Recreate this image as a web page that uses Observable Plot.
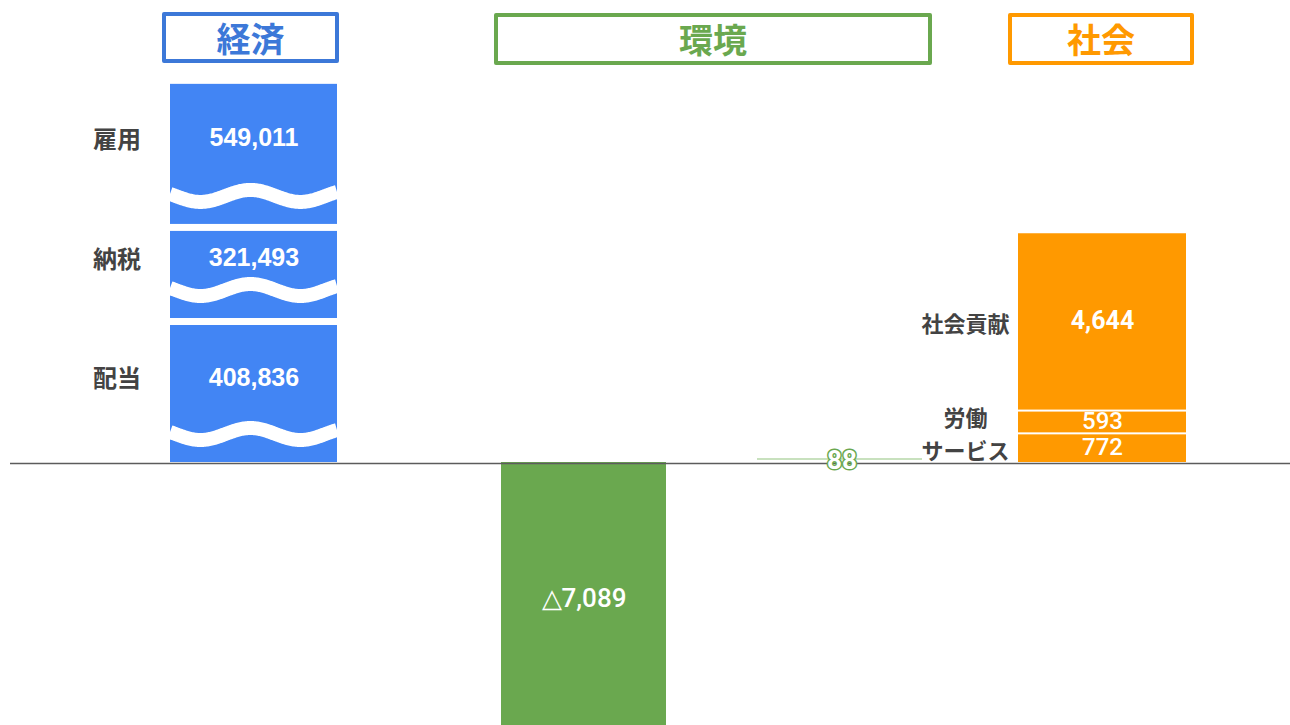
<!DOCTYPE html>
<html><head><meta charset="utf-8">
<script src="https://cdn.jsdelivr.net/npm/d3@7"></script>
<script src="https://cdn.jsdelivr.net/npm/@observablehq/plot@0.6"></script>
<style>
html,body{margin:0;padding:0;background:#fff;}
#chart{position:relative;width:1290px;height:725px;overflow:hidden;background:#fff;}
.hdr{position:absolute;box-sizing:border-box;border:4px solid;border-radius:2px;display:flex;align-items:center;justify-content:center;font-family:"Noto Sans CJK JP","Noto Sans",sans-serif;font-weight:700;font-size:34px;line-height:1;background:#fff;}
.col{position:absolute;top:70px;}
.col svg{overflow:visible;}
</style></head><body><div id="chart"></div>
<script>
// ---- data ----
const groups = ["経済", "環境", "社会"];
const econItems = ["配当", "納税", "雇用"];
const econValues = [408836, 321493, 549011];
const econShown = [3750, 2450, 3830];   // heights shown on the broken (wavy) bars
const envItems = ["環境負荷", "環境貢献"];
const envValues = [-7089, 88];
const socItems = ["サービス", "労働", "社会貢献"];
const socValues = [772, 593, 4644];

// ---- layout / style ----
const COLORS = {経済: "#4285f4", 環境: "#6aa84f", 社会: "#ff9900"};
const HDR = {経済: "#3c78d8", 環境: "#6aa84f", 社会: "#ff9900"};
const H = 655, ZERO = 392, K = 0.0384;
const yDomain = [-(H - ZERO) / K, ZERO / K];
const fmt = d3.format(",");
const chart = document.getElementById("chart");

// headers
const hdrBoxes = [
  {g: groups[0], left: 162, top: 12, w: 177, h: 51},
  {g: groups[1], left: 494, top: 13, w: 438, h: 52},
  {g: groups[2], left: 1008, top: 13, w: 186, h: 52}
];
for (const b of hdrBoxes) {
  const d = document.createElement("div");
  d.className = "hdr";
  d.textContent = b.g;
  Object.assign(d.style, {left: b.left + "px", top: b.top + "px", width: b.w + "px", height: b.h + "px",
    borderColor: HDR[b.g], color: HDR[b.g]});
  chart.appendChild(d);
}

function stackRows(group, items, values) {
  const cum = d3.cumsum(values);
  return items.map((item, i) => ({group, item, value: values[i], base: cum[i] - values[i], top: cum[i]}));
}

function baseline(ml, mr, extraLeft = 0) {
  return Plot.ruleY([0], {stroke: "#5c5c5c", strokeWidth: 1.6, dy: 1, insetLeft: -ml + extraLeft, insetRight: -mr});
}

const labelStyle = {fill: "#434343", fontFamily: "Noto Sans CJK JP", fontWeight: 700, fontSize: 24, dx: -137};

function place(node, left) {
  const wrap = document.createElement("div");
  wrap.className = "col";
  wrap.style.left = left + "px";
  wrap.appendChild(node);
  chart.appendChild(wrap);
}

// ---- 経済 column ----
{
  const shownRows = stackRows(groups[0], econItems, econShown).map((r, i) => ({...r, value: econValues[i]}));
  const ml = 170, mr = 83, W = 420;
  const waves = (index, scales, values, dims) => {
    const g = d3.create("svg:g");
    const bw = typeof scales.x.bandwidth === "function" ? scales.x.bandwidth() : dims.width - dims.marginLeft - dims.marginRight;
    for (const r of shownRows) {
      const x0 = scales.x(r.group), x1 = x0 + bw;
      const cy = scales.y(r.base) - 28;
      const xc = (x0 + x1) / 2 - 3;
      const pts = d3.range(x0, x1 + 0.5, 1).map(x => [Math.min(x, x1), cy - 6 * Math.cos(2 * Math.PI * (x - xc) / 100)]);
      g.append("path").attr("d", d3.line()(pts)).attr("fill", "none").attr("stroke", "#fff").attr("stroke-width", 14);
    }
    return g.node();
  };
  const p = Plot.plot({
    width: W, height: H, marginLeft: ml, marginRight: mr, marginTop: 0, marginBottom: 0,
    style: {background: "transparent", overflow: "visible"},
    x: {domain: [groups[0]], padding: 0, axis: null},
    y: {domain: yDomain, axis: null},
    marks: [
      Plot.barY(shownRows, {x: "group", y1: "base", y2: "top", fill: COLORS["経済"], insetTop: 7}),
      waves,
      Plot.text(shownRows, {x: "group", y: d => (d.base + d.top) / 2, dy: -13, text: d => fmt(d.value),
        fill: "#fff", fontFamily: "Liberation Sans", fontWeight: 700, fontSize: 25}),
      Plot.text(shownRows, {x: "group", y: d => (d.base + d.top) / 2, text: "item", ...labelStyle, dy: -11}),
      baseline(ml, mr, 10)
    ]
  });
  place(p, 0);
}

// ---- 環境 column ----
{
  const rows = envItems.map((item, i) => ({group: groups[1], item, value: envValues[i]}));
  const neg = rows.filter(d => d.value < 0), pos = rows.filter(d => d.value >= 0);
  const ml = 80, mr = 37, W = 540;
  const p = Plot.plot({
    width: W, height: H, marginLeft: ml, marginRight: mr, marginTop: 0, marginBottom: 0,
    style: {background: "transparent", overflow: "visible"},
    x: {domain: envItems, paddingInner: 0.354, paddingOuter: 0, axis: null},
    y: {domain: yDomain, axis: null},
    marks: [
      Plot.barY(neg, {x: "item", y: "value", fill: COLORS["環境"]}),
      Plot.tickY(pos, {x: "item", y: "value", stroke: "#b6d7a8", strokeWidth: 1.5}),
      Plot.text(neg, {x: "item", y: d => d.value / 2, text: d => "△" + fmt(-d.value),
        fill: "#fff", fontFamily: "Roboto", fontWeight: 500, fontSize: 26}),
      baseline(ml, mr),
      Plot.text(pos, {x: "item", y: d => d.value / 2, dx: 2, text: d => fmt(d.value),
        fill: "#fff", stroke: COLORS["環境"], strokeWidth: 3, paintOrder: "stroke",
        fontFamily: "Roboto", fontWeight: 700, fontSize: 26})
    ]
  });
  place(p, 420);
}

// ---- 社会 column ----
{
  const rows = stackRows(groups[2], socItems, socValues);
  const big = rows.filter(d => d.value >= 1000), small = rows.filter(d => d.value < 1000);
  const mid = rows.filter(d => d.item === socItems[1]), rest = rows.filter(d => d.item !== socItems[1]);
  const ml = 58, mr = 104, W = 330;
  const p = Plot.plot({
    width: W, height: H, marginLeft: ml, marginRight: mr, marginTop: 0, marginBottom: 0,
    style: {background: "transparent", overflow: "visible"},
    x: {domain: [groups[2]], padding: 0, axis: null},
    y: {domain: yDomain, axis: null},
    marks: [
      Plot.barY(rows, {x: "group", y1: "base", y2: "top", fill: COLORS["社会"], insetTop: 2}),
      Plot.text(big, {x: "group", y: d => (d.base + d.top) / 2, text: d => fmt(d.value),
        fill: "#fff", fontFamily: "Roboto", fontWeight: 700, fontSize: 25}),
      Plot.text(small, {x: "group", y: d => (d.base + d.top) / 2, text: d => fmt(d.value),
        fill: "#fff", fontFamily: "Roboto", fontWeight: 500, fontSize: 24}),
      Plot.text(rest, {x: "group", y: d => (d.base + d.top) / 2, text: "item", ...labelStyle, fontSize: 22, dy: 4}),
      Plot.text(mid, {x: "group", y: d => (d.base + d.top) / 2, text: "item", ...labelStyle, fontSize: 22, dy: -3}),
      baseline(ml, mr)
    ]
  });
  place(p, 960);
}
</script>
</body></html>
